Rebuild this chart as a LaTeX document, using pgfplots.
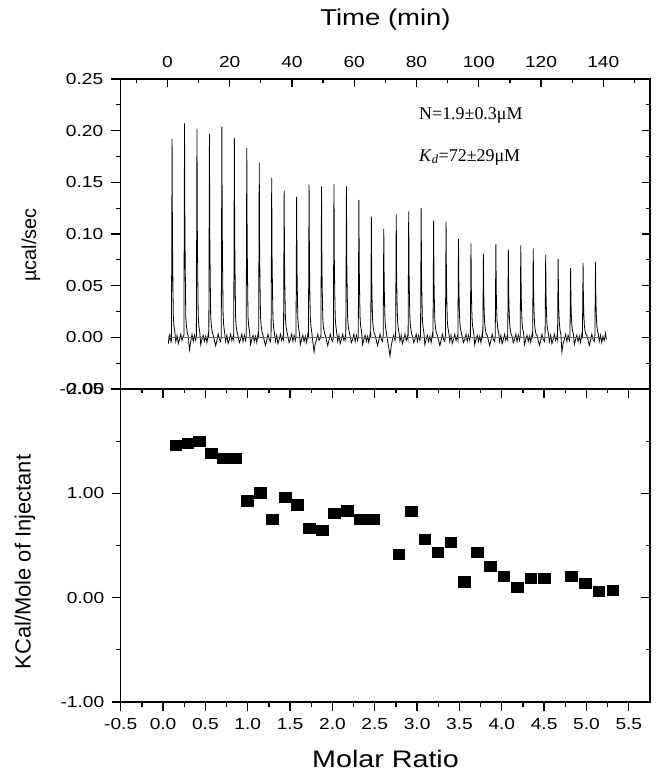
\documentclass[border=0pt]{standalone}
\usepackage{pgfplots}
\pgfplotsset{compat=1.18}
\usepackage{fontspec}
\setmainfont{Liberation Sans}[FakeStretch=1.2]
\newfontfamily\plainsans{Liberation Sans}
\newfontfamily\serifff{Liberation Serif}
\definecolor{basered}{RGB}{210,60,50}
\pgfplotstableread{
t y
0.3 -0.006
0.6 0.002
0.9 -0.003
1.1 0.001
1.3 -0.002
1.5 0.192
1.62 0.096
1.75 0.058
1.9 0.020
2.1 0.011
2.4 0.005
2.7 -0.004
3.1 0.002
3.5 -0.006
3.9 -0.002
4.3 0.003
4.7 -0.003
5.1 0.001
5.3 0.002
5.5 0.207
5.62 0.104
5.75 0.062
5.9 0.020
6.1 0.011
6.4 0.004
6.7 0.001
7.1 -0.012
7.5 -0.004
7.9 0.003
8.3 -0.004
8.7 0.002
9.1 -0.003
9.3 0.001
9.5 0.202
9.62 0.101
9.75 0.061
9.9 0.020
10.1 0.011
10.4 0.005
10.7 -0.007
11.1 -0.002
11.5 0.002
11.9 -0.004
12.3 0.001
12.7 -0.005
13.1 0.003
13.3 -0.001
13.5 0.197
13.62 0.099
13.75 0.059
13.9 0.020
14.1 0.012
14.4 0.005
14.7 0.002
15.1 -0.003
15.5 -0.008
15.9 -0.003
16.3 0.003
16.7 -0.002
17.1 -0.004
17.3 0.002
17.5 0.204
17.62 0.102
17.75 0.061
17.9 0.021
18.1 0.011
18.4 0.004
18.7 -0.004
19.1 0.002
19.5 -0.006
19.9 -0.002
20.3 0.003
20.7 -0.003
21.1 0.001
21.3 -0.002
21.5 0.193
21.62 0.097
21.75 0.058
21.9 0.020
22.1 0.010
22.4 0.005
22.7 0.001
23.1 -0.005
23.5 -0.002
23.9 0.003
24.3 -0.004
24.7 0.002
25.1 -0.003
25.3 0.001
25.5 0.183
25.62 0.092
25.75 0.055
25.9 0.019
26.1 0.011
26.4 0.005
26.7 -0.007
27.1 -0.002
27.5 0.002
27.9 -0.004
28.3 0.001
28.7 -0.005
29.1 0.003
29.3 -0.001
29.5 0.169
29.62 0.085
29.75 0.051
29.9 0.020
30.1 0.011
30.4 0.005
30.7 0.002
31.1 -0.003
31.5 -0.008
31.9 -0.003
32.3 0.003
32.7 -0.002
33.1 -0.004
33.3 0.002
33.5 0.154
33.62 0.077
33.75 0.046
33.9 0.019
34.1 0.010
34.4 0.004
34.7 -0.004
35.1 0.002
35.5 -0.006
35.9 -0.002
36.3 0.003
36.7 -0.003
37.1 0.001
37.3 -0.002
37.5 0.142
37.62 0.071
37.75 0.043
37.9 0.019
38.1 0.011
38.4 0.005
38.7 0.001
39.1 -0.005
39.5 -0.002
39.9 0.003
40.3 -0.004
40.7 0.002
41.1 -0.003
41.3 0.001
41.5 0.136
41.62 0.068
41.75 0.041
41.9 0.018
42.1 0.010
42.4 0.004
42.7 -0.007
43.1 -0.002
43.5 0.002
43.9 -0.004
44.3 0.001
44.7 -0.005
45.1 0.003
45.3 -0.001
45.5 0.148
45.62 0.074
45.75 0.044
45.9 0.019
46.1 0.011
46.4 0.004
46.7 -0.004
47.1 -0.014
47.5 -0.006
47.9 -0.002
48.3 0.003
48.7 -0.003
49.1 -0.001
49.3 0.002
49.5 0.146
49.62 0.073
49.75 0.044
49.9 0.019
50.1 0.010
50.4 0.005
50.7 0.002
51.1 -0.003
51.5 -0.008
51.9 -0.003
52.3 0.003
52.7 -0.002
53.1 -0.004
53.3 0.001
53.5 0.148
53.62 0.074
53.75 0.044
53.9 0.019
54.1 0.011
54.4 0.004
54.7 -0.004
55.1 0.002
55.5 -0.006
55.9 -0.002
56.3 0.003
56.7 -0.003
57.1 0.001
57.3 -0.002
57.5 0.146
57.62 0.073
57.75 0.044
57.9 0.018
58.1 0.010
58.4 0.005
58.7 0.001
59.1 -0.005
59.5 -0.002
59.9 0.003
60.3 -0.004
60.7 0.002
61.1 -0.003
61.3 0.001
61.5 0.133
61.62 0.067
61.75 0.040
61.9 0.018
62.1 0.010
62.4 0.004
62.7 -0.007
63.1 -0.002
63.5 0.002
63.9 -0.004
64.3 0.001
64.7 -0.005
65.1 0.003
65.3 -0.001
65.5 0.117
65.62 0.059
65.75 0.035
65.9 0.017
66.1 0.010
66.4 0.004
66.7 0.002
67.1 -0.003
67.5 -0.008
67.9 -0.003
68.3 0.003
68.7 -0.002
69.1 -0.004
69.3 0.002
69.5 0.105
69.62 0.053
69.75 0.032
69.9 0.016
70.1 0.009
70.4 0.003
70.7 -0.003
71.1 -0.010
71.5 -0.018
71.9 -0.008
72.3 -0.002
72.7 0.002
73.1 -0.003
73.3 0.001
73.5 0.119
73.62 0.060
73.75 0.036
73.9 0.017
74.1 0.010
74.4 0.004
74.7 -0.004
75.1 0.002
75.5 -0.006
75.9 -0.002
76.3 0.003
76.7 -0.003
77.1 0.001
77.3 -0.002
77.5 0.122
77.62 0.061
77.75 0.037
77.9 0.017
78.1 0.010
78.4 0.004
78.7 0.001
79.1 -0.005
79.5 -0.002
79.9 0.003
80.3 -0.004
80.7 0.002
81.1 -0.003
81.3 0.001
81.5 0.125
81.62 0.063
81.75 0.038
81.9 0.017
82.1 0.010
82.4 0.004
82.7 -0.007
83.1 -0.002
83.5 0.002
83.9 -0.004
84.3 0.001
84.7 -0.005
85.1 0.003
85.3 -0.001
85.5 0.113
85.62 0.057
85.75 0.034
85.9 0.016
86.1 0.009
86.4 0.004
86.7 0.002
87.1 -0.003
87.5 -0.008
87.9 -0.003
88.3 0.003
88.7 -0.002
89.1 -0.004
89.3 0.002
89.5 0.112
89.62 0.056
89.75 0.034
89.9 0.016
90.1 0.009
90.4 0.004
90.7 -0.004
91.1 0.002
91.5 -0.006
91.9 -0.002
92.3 0.003
92.7 -0.003
93.1 0.001
93.3 -0.002
93.5 0.095
93.62 0.048
93.75 0.029
93.9 0.015
94.1 0.009
94.4 0.004
94.7 0.001
95.1 -0.005
95.5 -0.002
95.9 0.003
96.3 -0.004
96.7 0.002
97.1 -0.003
97.3 0.001
97.5 0.091
97.62 0.046
97.75 0.027
97.9 0.015
98.1 0.009
98.4 0.004
98.7 -0.007
99.1 -0.002
99.5 0.002
99.9 -0.004
100.3 0.001
100.7 -0.005
101.1 0.003
101.3 -0.001
101.5 0.081
101.62 0.041
101.75 0.024
101.9 0.014
102.1 0.008
102.4 0.003
102.7 0.002
103.1 -0.003
103.5 -0.008
103.9 -0.003
104.3 0.003
104.7 -0.002
105.1 -0.004
105.3 0.002
105.5 0.090
105.62 0.045
105.75 0.027
105.9 0.015
106.1 0.009
106.4 0.004
106.7 -0.004
107.1 0.002
107.5 -0.006
107.9 -0.002
108.3 0.003
108.7 -0.003
109.1 0.001
109.3 -0.002
109.5 0.085
109.62 0.043
109.75 0.026
109.9 0.014
110.1 0.008
110.4 0.003
110.7 0.001
111.1 -0.005
111.5 -0.002
111.9 0.003
112.3 -0.004
112.7 0.002
113.1 -0.003
113.3 0.001
113.5 0.089
113.62 0.045
113.75 0.027
113.9 0.014
114.1 0.008
114.4 0.004
114.7 -0.007
115.1 -0.002
115.5 0.002
115.9 -0.004
116.3 0.001
116.7 -0.005
117.1 0.003
117.3 -0.001
117.5 0.086
117.62 0.043
117.75 0.026
117.9 0.014
118.1 0.008
118.4 0.003
118.7 0.002
119.1 -0.003
119.5 -0.008
119.9 -0.003
120.3 0.003
120.7 -0.002
121.1 -0.004
121.3 0.002
121.5 0.080
121.62 0.040
121.75 0.024
121.9 0.013
122.1 0.008
122.4 0.003
122.7 -0.004
123.1 0.002
123.5 -0.006
123.9 -0.002
124.3 0.003
124.7 -0.003
125.1 0.001
125.3 -0.002
125.5 0.076
125.62 0.038
125.75 0.023
125.9 0.013
126.1 0.007
126.4 0.002
126.7 -0.014
127.1 -0.006
127.5 -0.002
127.9 0.003
128.3 -0.004
128.7 0.002
129.1 -0.003
129.3 0.001
129.5 0.067
129.62 0.034
129.75 0.020
129.9 0.012
130.1 0.007
130.4 0.003
130.7 -0.007
131.1 -0.002
131.5 0.002
131.9 -0.004
132.3 0.001
132.7 -0.005
133.1 0.003
133.3 -0.001
133.5 0.072
133.62 0.036
133.75 0.022
133.9 0.012
134.1 0.007
134.4 0.003
134.7 0.002
135.1 -0.003
135.5 -0.008
135.9 -0.003
136.3 0.003
136.7 -0.002
137.1 -0.004
137.3 0.002
137.5 0.073
137.62 0.037
137.75 0.022
137.9 0.012
138.1 0.007
138.4 0.003
138.7 -0.004
139.1 0.002
139.5 -0.005
139.9 0.001
140.3 -0.003
140.7 0.004
141.0 -0.002
}\thermo
\pgfplotstableread{
r h
0.151 1.458
0.293 1.481
0.428 1.500
0.570 1.385
0.712 1.333
0.854 1.339
0.997 0.929
1.147 1.006
1.290 0.753
1.440 0.962
1.583 0.891
1.729 0.663
1.880 0.644
2.022 0.808
2.176 0.833
2.331 0.750
2.482 0.750
2.783 0.416
2.933 0.830
3.088 0.564
3.243 0.439
3.398 0.529
3.556 0.154
3.711 0.433
3.865 0.301
4.024 0.205
4.182 0.102
4.340 0.183
4.503 0.183
4.821 0.205
4.983 0.140
5.146 0.061
5.309 0.073
}\heats
\begin{document}
\begin{tikzpicture}
\useasboundingbox (0,0) rectangle (663bp,783bp);
\pgfplotsset{
  every axis/.append style={
    scale only axis, width=529.3bp,
    scaled ticks=false,
    axis line style={line width=1.5bp},
    every tick/.append style={black, line width=1.3bp},
    major tick length=9bp, minor tick length=4.5bp,
    tick label style={font=\fontsize{16}{16}\selectfont},
  },
}
% ---- top panel: inner ticks (top x, right y)
\begin{axis}[at={(120.7bp,394bp)}, anchor=south west, height=310bp,
  xmin=-15, xmax=155, ymin=-0.05, ymax=0.25,
  tick align=inside, xtick pos=upper, xticklabel pos=upper, ytick pos=right,
  xtick={0,20,40,60,80,100,120,140}, minor xtick={-10,10,30,50,70,90,110,130,150},
  xticklabels={0,20,40,60,80,100,120,140},
  ytick={-0.05,0,0.05,0.1,0.15,0.2,0.25},
  minor ytick={-0.025,0.025,0.075,0.125,0.175,0.225},
  yticklabels={}, xticklabel style={yshift=8bp},
  major tick length=8bp, minor tick length=4bp]
\end{axis}
% ---- top panel: outer ticks (left y) + data
\begin{axis}[at={(120.7bp,394bp)}, anchor=south west, height=310bp,
  xmin=-15, xmax=155, ymin=-0.05, ymax=0.25,
  tick align=outside, xtick=\empty, ytick pos=left,
  ytick={-0.05,0,0.05,0.1,0.15,0.2,0.25},
  yticklabels={-0.05,0.00,0.05,0.10,0.15,0.20,0.25},
  yticklabel style={xshift=-4bp},
  minor ytick={-0.025,0.025,0.075,0.125,0.175,0.225},
  major tick length=10bp, minor tick length=5bp]
\addplot[black, line width=0.8bp] table[x=t, y=y] {\thermo};
\addplot[basered, line width=0.8bp] coordinates {(0.3,0) (141,0)};
\end{axis}
% ---- bottom panel: inner ticks (top x, right y)
\begin{axis}[at={(120.7bp,81bp)}, anchor=south west, height=313bp,
  xmin=-0.5, xmax=5.75, ymin=-1, ymax=2,
  tick align=inside, xtick pos=upper, ytick pos=right,
  xtick={-0.5,0,0.5,1,1.5,2,2.5,3,3.5,4,4.5,5,5.5},
  minor xtick={-0.25,0.25,0.75,1.25,1.75,2.25,2.75,3.25,3.75,4.25,4.75,5.25},
  ytick={-1,0,1,2}, minor ytick={-0.5,0.5,1.5},
  xticklabels={}, yticklabels={}]
\end{axis}
% ---- bottom panel: outer ticks (bottom x, left y) + data
\begin{axis}[at={(120.7bp,81bp)}, anchor=south west, height=313bp,
  xmin=-0.5, xmax=5.75, ymin=-1, ymax=2,
  tick align=outside, xtick pos=lower, ytick pos=left,
  xtick={-0.5,0,0.5,1,1.5,2,2.5,3,3.5,4,4.5,5,5.5},
  xticklabels={-0.5,0.0,0.5,1.0,1.5,2.0,2.5,3.0,3.5,4.0,4.5,5.0,5.5},
  xticklabel style={yshift=-4bp},
  minor xtick={-0.25,0.25,0.75,1.25,1.75,2.25,2.75,3.25,3.75,4.25,4.75,5.25},
  ytick={-1,0,1,2}, yticklabels={-1.00,0.00,1.00,2.00},
  yticklabel style={xshift=-4bp},
  minor ytick={-0.5,0.5,1.5},
  major tick length=9bp, minor tick length=4.5bp]
\addplot[only marks, mark=square*, mark size=5.8bp,
  mark options={yscale=0.88, fill=black, draw=black}] table[x=r, y=h] {\heats};
\end{axis}
% ---- labels
\node[font=\fontsize{23}{23}\selectfont] at (385.5bp,763bp) {Time (min)};
\node[rotate=90, font=\plainsans\fontsize{20}{20}\selectfont] at (31bp,538bp) {µcal/sec};
\node[rotate=90, font=\plainsans\fontsize{22}{22}\selectfont] at (25bp,221bp) {KCal/Mole of Injectant};
\node[font=\fontsize{24}{24}\selectfont] at (385.5bp,24bp) {Molar Ratio};
\node[anchor=west, inner sep=0pt, font=\serifff\fontsize{18}{18}\selectfont] at (419bp,668bp) {N=1.9±0.3μM};
\node[anchor=west, inner sep=0pt, font=\serifff\fontsize{18}{18}\selectfont] at (419bp,626bp) {\textit{K}\textsubscript{\textit{d}}=72±29μM};
\end{tikzpicture}
\end{document}
